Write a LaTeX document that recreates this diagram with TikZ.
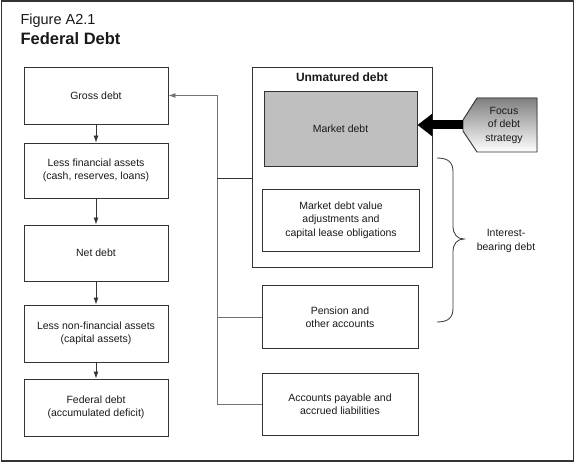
\documentclass[tikz,border=0pt]{standalone}
\usepackage{fontspec}
\setmainfont{Liberation Sans}
\usetikzlibrary{arrows.meta}

\definecolor{boxline}{gray}{0.2}
\definecolor{wireline}{gray}{0.45}
\definecolor{shade}{gray}{0.75}

\begin{document}
\begin{tikzpicture}[
  x=1pt, y=-1pt,
  >=Latex,
  every node/.style={font=\fontsize{10.5}{13.5}\selectfont,align=center,text=black!90},
  stepbox/.style={draw=boxline,line width=0.9pt,inner sep=0pt},
  wire/.style={draw=wireline,line width=0.9pt},
  flow/.style={draw=boxline,line width=0.9pt,-{Latex[length=7pt,width=5pt]}},
]
\useasboundingbox (0,0) rectangle (575,462);

% Outer frame
\draw[boxline,line width=1.2pt] (1.5,1) rectangle (573.5,461);

% Title
\node[anchor=base west,font=\fontsize{14.5}{16}\selectfont] (fignum) at (17,25) {Figure A2.1};
\node[anchor=base west,font=\bfseries\fontsize{16.5}{18}\selectfont] (figtitle) at (17,45) {Federal Debt};

% Left column
\node[stepbox,minimum width=144pt,minimum height=57pt] (gross) at (96,95.5) {Gross debt};
\node[stepbox,minimum width=144pt,minimum height=55pt] (lfa) at (96,170.5) {Less financial assets\\(cash, reserves, loans)};
\node[stepbox,minimum width=144pt,minimum height=56pt] (net) at (96,253) {Net debt};
\node[stepbox,minimum width=144pt,minimum height=57pt] (lnfa) at (96,333.5) {Less non-financial assets\\(capital assets)};
\node[stepbox,minimum width=144pt,minimum height=57pt] (fed) at (96,407.5) {Federal debt\\(accumulated deficit)};

\draw[flow] (gross) -- (lfa);
\draw[flow] (lfa) -- (net);
\draw[flow] (net) -- (lnfa);
\draw[flow] (lnfa) -- (fed);

% Unmatured debt group
\node[stepbox,minimum width=180pt,minimum height=200pt] (unmat) at (342,167) {};
\node[anchor=base,font=\bfseries\fontsize{12}{14}\selectfont] (unmattitle) at (342,82) {Unmatured debt};
\node[stepbox,fill=shade,minimum width=153pt,minimum height=75pt] (market) at (340.5,128.5) {Market debt};
\node[stepbox,minimum width=157pt,minimum height=62pt] (adjust) at (341,220) {Market debt value\\adjustments and\\capital lease obligations};

% Other liabilities
\node[stepbox,minimum width=156pt,minimum height=63pt] (pension) at (340,317) {Pension and\\other accounts};
\node[stepbox,minimum width=156pt,minimum height=62pt] (payable) at (340,404) {Accounts payable and\\accrued liabilities};

% Bus into gross debt
\coordinate (bustop) at (217,95.5);
\coordinate (busbot) at (217,404);
\draw[wire,-{Latex[length=7pt,width=5pt]}] (bustop) -- (gross.east);
\draw[wire] (bustop) -- (busbot) -- (payable.west);
\draw[boxline,line width=0.9pt] (bustop |- 0,178) -- (unmat.west |- 0,178);
\draw[wire] (bustop |- pension.west) -- (pension.west);

% Focus of debt strategy
\fill[shade,draw=boxline,line width=0.9pt] (537,98) -- (537,152) -- (477,152) -- (463,131) -- (463,120) -- (477,98) -- cycle;
\node (focus) at (504,125) {Focus\\of debt\\strategy};
\coordinate (focustip) at (463,125);
\draw[line width=9pt,-{Triangle[length=15pt,width=22pt]}] (focustip) -- (market.east |- focustip);

% Interest-bearing brace
\draw[boxline,line width=0.8pt] (437,158) .. controls (449,158) and (453,163) .. (453,172)
  -- (453,226) .. controls (453,234) and (457,239) .. (464,239)
  .. controls (457,239) and (453,244) .. (453,252)
  -- (453,308) .. controls (453,317) and (449,322) .. (437,322);
\node (ibd) at (506,241) {Interest-\\bearing debt};

\end{tikzpicture}
\end{document}
